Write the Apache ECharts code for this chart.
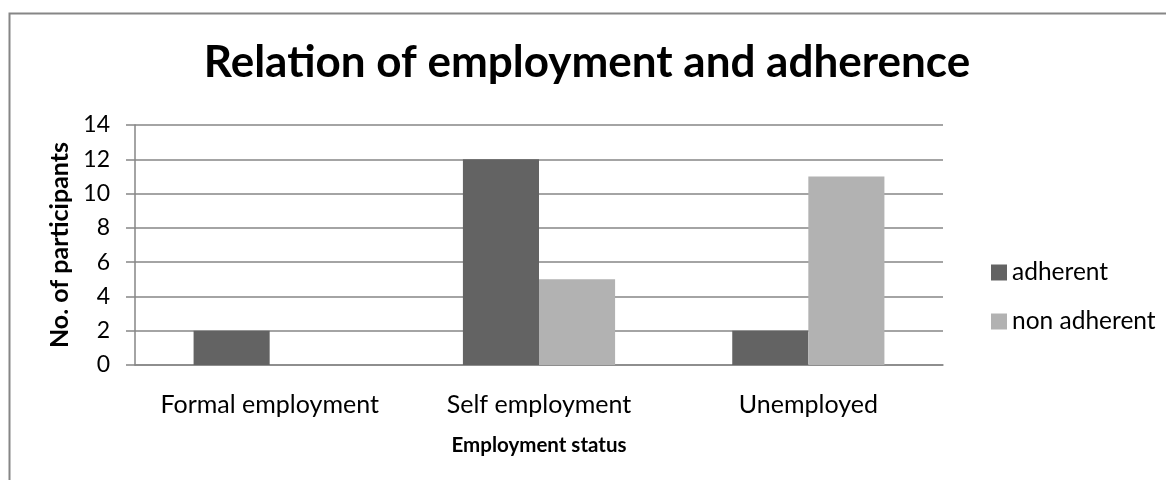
<!DOCTYPE html>
<html><head><meta charset="utf-8">
<script src="https://cdn.jsdelivr.net/npm/echarts@6/dist/echarts.min.js"></script>
<style>html,body{margin:0;padding:0;background:#fff}#c{width:1166px;height:480px}</style>
</head><body><div id="c"></div>
<script>
const categories = ["Formal employment", "Self employment", "Unemployed"];
const adherent = [2, 12, 2];
const nonAdherent = [0, 5, 11];
const seriesNames = ["adherent", "non adherent"];
const FONT = "Lato";
const chart = echarts.init(document.getElementById('c'));
chart.setOption({
  animation: false,
  backgroundColor: '#fff',
  textStyle: { fontFamily: FONT },
  graphic: [{ type: 'polyline', shape: { points: [[9.5, 480], [9.5, 13.5], [1166, 13.5]] }, style: { stroke: '#868686', lineWidth: 2, fill: null } }],
  title: { text: 'Relation of employment and adherence', left: 582, textAlign: 'center', top: 36,
    textStyle: { fontFamily: FONT, fontWeight: 'bold', fontSize: 44, color: '#000' } },
  legend: { orient: 'vertical', left: 986, top: 255, itemWidth: 16, itemHeight: 16, itemGap: 24,
    icon: 'rect', textStyle: { fontFamily: FONT, fontSize: 24.5, lineHeight: 25, color: '#000' }, data: seriesNames },
  grid: { left: 135, right: 223, top: 125, bottom: 115, containLabel: false },
  xAxis: { type: 'category', data: categories,
    name: 'Employment status', nameLocation: 'middle', nameGap: 70,
    nameTextStyle: { fontFamily: FONT, fontWeight: 'bold', fontSize: 20.5, color: '#000' },
    axisLine: { lineStyle: { color: '#868686', width: 1.5 } }, axisTick: { show: false },
    axisLabel: { interval: 0, fontFamily: FONT, fontSize: 25, color: '#000', margin: 27 } },
  yAxis: { type: 'value', min: 0, max: 14, interval: 2,
    name: 'No. of participants', nameLocation: 'middle', nameGap: 62,
    nameTextStyle: { fontFamily: FONT, fontWeight: 'bold', fontSize: 25, color: '#000' },
    axisLine: { show: true, lineStyle: { color: '#868686', width: 1.5 } },
    axisTick: { show: true, length: 9, lineStyle: { color: '#868686', width: 1.5 } },
    splitLine: { lineStyle: { color: '#868686', width: 1.5 } },
    axisLabel: { fontFamily: FONT, fontSize: 23, color: '#000', margin: 25 } },
  series: [
    { name: seriesNames[0], type: 'bar', data: adherent, barGap: '0%', barCategoryGap: '43.5%',
      itemStyle: { color: '#636363' } },
    { name: seriesNames[1], type: 'bar', data: nonAdherent, barGap: '0%', barCategoryGap: '43.5%',
      itemStyle: { color: '#b2b2b2' } }
  ]
});
</script></body></html>
